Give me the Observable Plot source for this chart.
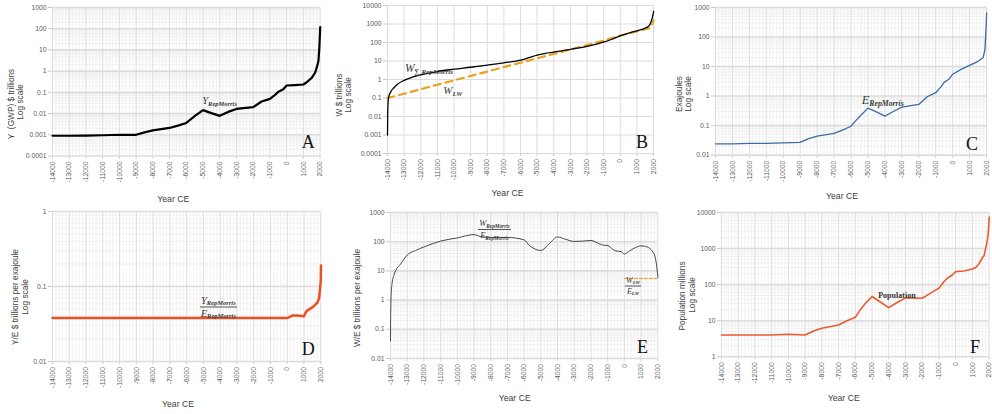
<!DOCTYPE html>
<html><head><meta charset="utf-8">
<script src="https://cdn.jsdelivr.net/npm/d3@7"></script>
<script src="https://cdn.jsdelivr.net/npm/@observablehq/plot@0.6"></script>
<style>
body{margin:0;background:#fff;}
#root{position:relative;width:992px;height:414px;overflow:hidden;background:#fff;font-family:"Liberation Sans",Arial,sans-serif;}
.panel{position:absolute;}
.panel svg{position:absolute;left:0;top:0;overflow:visible;}
.ov{position:absolute;white-space:nowrap;line-height:1;transform:translate(0,-50%);}
.xlab{position:absolute;font-size:8.7px;color:#404040;transform:translate(-50%,-50%);white-space:nowrap;line-height:1;}
.ylab{position:absolute;font-size:8.3px;color:#404040;transform:translate(-50%,-50%) rotate(-90deg);white-space:nowrap;line-height:1;}
.letter{position:absolute;font-family:"Liberation Serif","Times New Roman",serif;font-size:18px;color:#111;line-height:1;}
.m{font-family:"Liberation Serif","DejaVu Serif",serif;font-style:italic;color:#3a3a3a;}
.m sub{font-size:0.62em;vertical-align:-0.3em;line-height:0;font-weight:bold;}
.frac{display:inline-flex;flex-direction:column;align-items:center;}
.frac .num{border-bottom:0.8px solid #555;padding:0 1px 1px 1px;line-height:1;}
.frac .den{padding-top:1px;line-height:1;}
.pop{font-family:"Liberation Serif",serif;color:#333;font-size:8px;font-weight:bold;}
</style></head><body><div id="root"></div>
<script>
// ---------- tick values ----------
const xTicks = [-14000,-13000,-12000,-11000,-10000,-9000,-8000,-7000,-6000,-5000,-4000,-3000,-2000,-1000,0,1000,2000];
const yTicksA = [0.0001,0.001,0.01,0.1,1,10,100,1000];
const yTicksB = [0.0001,0.001,0.01,0.1,1,10,100,1000,10000];
const yTicksC = [0.01,0.1,1,10,100,1000];
const yTicksD = [0.01,0.1,1];
const yTicksE = [0.01,0.1,1,10,100,1000];
const yTicksF = [1,10,100,1000,10000];

// ---------- A: GWP ($ trillions) ----------
const yearA = [-14000,-13000,-12000,-11000,-10000,-9000,-8500,-8000,-7000,-6500,-6000,-5500,-5000,-4500,-4000,-3500,-3000,-2000,-1500,-1000,-700,-500,-200,0,500,1000,1200,1500,1700,1800,1900,1950,2010];
const gwpA  = [0.0009,0.0009,0.00092,0.00095,0.001,0.001,0.0013,0.0016,0.0021,0.0027,0.0036,0.0075,0.0145,0.0105,0.0078,0.012,0.0165,0.02,0.037,0.049,0.075,0.105,0.14,0.21,0.22,0.235,0.3,0.48,0.84,1.45,3,10,120];

// ---------- B: Wealth ($ trillions) ----------
const yearB = [-14000,-13990,-13970,-13940,-13900,-13800,-13600,-13400,-13000,-12500,-12000,-11000,-10000,-9000,-8000,-7000,-6000,-5500,-5000,-4500,-4000,-3000,-2000,-1000,-500,0,500,1000,1500,1700,1800,1900,1950,2010];
const wB    = [0.001,0.01,0.05,0.1,0.14,0.22,0.37,0.56,0.9,1.35,1.8,2.7,3.6,4.6,6,8,11,15,21,26,30,43,62,105,150,230,320,430,600,750,1000,1800,2600,4800];
const yearLW = [-14000,-13000,-12000,-11000,-10000,-9000,-8000,-7000,-6000,-5000,-4000,-3000,-2000,-1000,0,1000,1800,1900,2010];
const wLW    = [0.1,0.17,0.3,0.52,0.9,1.55,2.7,4.7,8,14,24,42,72,125,240,400,600,850,1600];

// ---------- C: Energy (exajoules) ----------
const yearC = [-14000,-13000,-12000,-11000,-10000,-9000,-8500,-8000,-7000,-6500,-6000,-5700,-5500,-5000,-4500,-4000,-3500,-3000,-2000,-1500,-1000,-700,-500,-200,0,500,1000,1500,1800,1900,1950,2010];
const eC    = [0.024,0.024,0.025,0.025,0.026,0.027,0.036,0.044,0.054,0.07,0.095,0.15,0.2,0.39,0.29,0.21,0.3,0.42,0.52,0.95,1.3,2,2.9,3.8,5.5,8,11,15,20,35,100,650];

// ---------- D: Y/E ----------
const yearD = [-14000,-10000,-5000,-1000,0,300,600,1000,1100,1200,1400,1500,1600,1700,1800,1900,1950,2000,2010];
const yeD   = [0.038,0.038,0.038,0.038,0.038,0.041,0.041,0.040,0.045,0.048,0.051,0.053,0.055,0.058,0.061,0.07,0.09,0.12,0.19];

// ---------- E: W/E ----------
const yearE = [-14000,-13990,-13950,-13900,-13800,-13700,-13400,-13000,-12500,-12000,-11000,-10000,-9000,-8600,-8000,-7000,-6000,-5700,-5400,-5000,-4500,-4000,-3500,-3000,-2500,-2000,-1500,-1200,-1000,-700,-500,-200,0,300,600,1000,1200,1500,1700,1800,1900,1950,2010];
const weE   = [0.04,0.3,2,4,7,10,17,35,50,66,105,135,175,150,140,140,115,75,58,50,85,145,120,102,105,110,85,75,74,55,48,46,38,48,60,72,70,60,45,35,20,12,6];
const yearELW = [0,500,1000,1500,2010];
const weLW    = [5.5,5.5,5.5,5.5,5.5];

// ---------- F: Population (millions) ----------
const yearF = [-14000,-13000,-12000,-11000,-10000,-9000,-8500,-8000,-7000,-6500,-6000,-5700,-5400,-5000,-4500,-4000,-3500,-3000,-2000,-1500,-1000,-700,-500,-200,0,500,1000,1200,1400,1500,1600,1650,1700,1750,1800,1850,1900,1950,2010];
const popF  = [4,4,4,4,4.2,4,5.2,6.2,7.6,10,12.4,20,30,47,33,23,32,43,42,58,80,120,150,185,230,240,270,300,380,460,560,600,630,800,1050,1300,1800,2700,7500];

const root = document.getElementById("root");

function makePanel(cfg){
  const ML=50, MT=6, MR=6, MB=40;
  const w = ML + (cfg.x2000 - cfg.xL) + MR;
  const h = MT + (cfg.yBot - cfg.yTop) + MB;
  const dec = cfg.yTicks;
  const minorY = [];
  for (let i=0;i<dec.length-1;i++) for (let m=2;m<=9;m++) minorY.push(dec[i]*m);
  const minorX = d3.range(-14000, 2001, 200).filter(v => v % 1000 !== 0);
  const marks = [];
  if (cfg.minor) {
    marks.push(Plot.ruleX(minorX, {stroke:"#ececec", strokeWidth:0.7}));
    marks.push(Plot.ruleY(minorY, {stroke:"#ececec", strokeWidth:0.7}));
  }
  marks.push(Plot.ruleX(xTicks, {stroke:"#d8d8d8", strokeWidth:0.9}));
  marks.push(Plot.ruleY(dec, {stroke:"#dcdcdc", strokeWidth: cfg.minor ? 1.6 : 1}));
  marks.push(...cfg.marks);
  const chart = Plot.plot({
    width: w, height: h,
    marginLeft: ML, marginTop: MT, marginRight: MR, marginBottom: MB,
    style: {fontSize:"6.8px", fontFamily:"'Liberation Sans', Arial, sans-serif", color:"#595959", background:"none", overflow:"visible"},
    x: {type:"linear", domain:[-14000,2000], ticks:xTicks, tickFormat:d=>String(d), tickRotate:-90, tickSize:3, tickPadding:2.5, label:null},
    y: {type:"log", domain:cfg.yDomain, ticks:dec, tickFormat:d=>String(d), tickSize:4, tickPadding:2, label:null},
    marks
  });
  chart.querySelectorAll('g[aria-label="x-axis tick"], g[aria-label="y-axis tick"]').forEach(g=>g.setAttribute("stroke","#c8c8c8"));
  const wrap = document.createElement("div");
  wrap.className = "panel";
  wrap.style.left = (cfg.xL - ML) + "px";
  wrap.style.top = (cfg.yTop - MT) + "px";
  wrap.style.width = w + "px";
  wrap.style.height = h + "px";
  wrap.appendChild(chart);
  root.appendChild(wrap);
  const xs = chart.scale("x"), ys = chart.scale("y");
  (cfg.notes||[]).forEach(n=>{
    const d = document.createElement("div");
    d.className = "ov";
    d.innerHTML = n.html;
    d.style.left = xs.apply(n.x) + "px";
    d.style.top = ys.apply(n.y) + "px";
    if (n.size) d.style.fontSize = n.size + "px";
    wrap.appendChild(d);
  });
}

function pageText(cls, html, x, y, extra){
  const d = document.createElement("div");
  d.className = cls; d.innerHTML = html;
  d.style.left = x + "px"; d.style.top = y + "px";
  if (extra) Object.assign(d.style, extra);
  root.appendChild(d);
}
function letter(t, x, baseline){
  pageText("letter", t, x, baseline - 15.1);
}

// A
makePanel({xL:51.7, x2000:319.3, yTop:6.5, yBot:155, yDomain:[0.0001,1000], yTicks:yTicksA, minor:true,
  marks:[Plot.line(yearA, {x:yearA, y:gwpA, stroke:"#000", strokeWidth:2.2})],
  notes:[{x:-5000, y:0.037, size:10.5, html:'<span class="m">Y<sub>RepMorris</sub></span>'}]});
// B
makePanel({xL:386.7, x2000:652.7, yTop:4.7, yBot:152.7, yDomain:[0.0001,10000], yTicks:yTicksB, minor:false,
  marks:[
    Plot.line(yearLW, {x:yearLW, y:wLW, stroke:"#E8A21B", strokeWidth:2.2, strokeDasharray:"7,5"}),
    Plot.line(yearB, {x:yearB, y:wB, stroke:"#000", strokeWidth:1.3, curve:"monotone-x"})
  ],
  notes:[
    {x:-12900, y:3.3, size:11.5, html:'<span class="m">W<sub>∑ RepMorris</sub></span>'},
    {x:-10600, y:0.26, size:11, html:'<span class="m">W<sub>LW</sub></span>'}
  ]});
// C
makePanel({xL:715, x2000:986, yTop:6.7, yBot:154.3, yDomain:[0.01,1000], yTicks:yTicksC, minor:true,
  marks:[Plot.line(yearC, {x:yearC, y:eC, stroke:"#3D6AA3", strokeWidth:1.3})],
  notes:[{x:-5340, y:0.71, size:12.5, html:'<span class="m">E<sub>RepMorris</sub></span>'}]});
// D
makePanel({xL:51.7, x2000:320, yTop:211, yBot:361, yDomain:[0.01,1], yTicks:yTicksD, minor:true,
  marks:[Plot.line(yearD, {x:yearD, y:yeD, stroke:"#EF4E23", strokeWidth:2.5})],
  notes:[{x:-5160, y:0.053, size:10.5, html:'<span class="m frac"><span class="num">Y<sub>RepMorris</sub></span><span class="den">E<sub>RepMorris</sub></span></span>'}]});
// E
makePanel({xL:390, x2000:657.3, yTop:212.3, yBot:358.3, yDomain:[0.01,1000], yTicks:yTicksE, minor:true,
  marks:[
    Plot.line(yearE, {x:yearE, y:weE, stroke:"#333", strokeWidth:0.9, curve:"monotone-x"}),
    Plot.line(yearELW, {x:yearELW, y:weLW, stroke:"#E8A21B", strokeWidth:1.2, strokeDasharray:"3,2"})
  ],
  notes:[
    {x:-8720, y:262, size:8.5, html:'<span class="m frac"><span class="num">W<sub>RepMorris</sub></span><span class="den">E<sub>RepMorris</sub></span></span>'},
    {x:70, y:3.0, size:8, html:'<span class="m frac"><span class="num">W<sub>LW</sub></span><span class="den">E<sub>LW</sub></span></span>'}
  ]});
// F
makePanel({xL:720.7, x2000:988.3, yTop:211.7, yBot:356, yDomain:[1,10000], yTicks:yTicksF, minor:true,
  marks:[Plot.line(yearF, {x:yearF, y:popF, stroke:"#EC5A2E", strokeWidth:1.6})],
  notes:[{x:-4580, y:56, html:'<span class="pop">Population</span>'}]});

// axis titles
pageText("xlab","Year CE",173.3,199);
pageText("xlab","Year CE",507.5,193);
pageText("xlab","Year CE",842,196);
pageText("xlab","Year CE",178,404);
pageText("xlab","Year CE",514.7,398.3);
pageText("xlab","Year CE",843.7,397.7);

pageText("ylab","Y&nbsp; (GWP) $ trillions",10.5,104);
pageText("ylab","Log scale",19.5,102);
pageText("ylab","W $ trillions",338.5,95);
pageText("ylab","Log scale",347.5,95);
pageText("ylab","Exajoules",679,94);
pageText("ylab","Log scale",688,94);
pageText("ylab","Y/E $ trillions per exajoule",15,297);
pageText("ylab","Log scale",25,297);
pageText("ylab","W/E $ trillions per exajoule",356.7,297.5);
pageText("ylab","Population millions",681.7,295.5);
pageText("ylab","Log scale",691.7,295);

letter("A",301.7,148.3);
letter("B",636,148.3);
letter("C",966,150);
letter("D",301.7,355);
letter("E",637,353);
letter("F",970,353);
</script></body></html>
